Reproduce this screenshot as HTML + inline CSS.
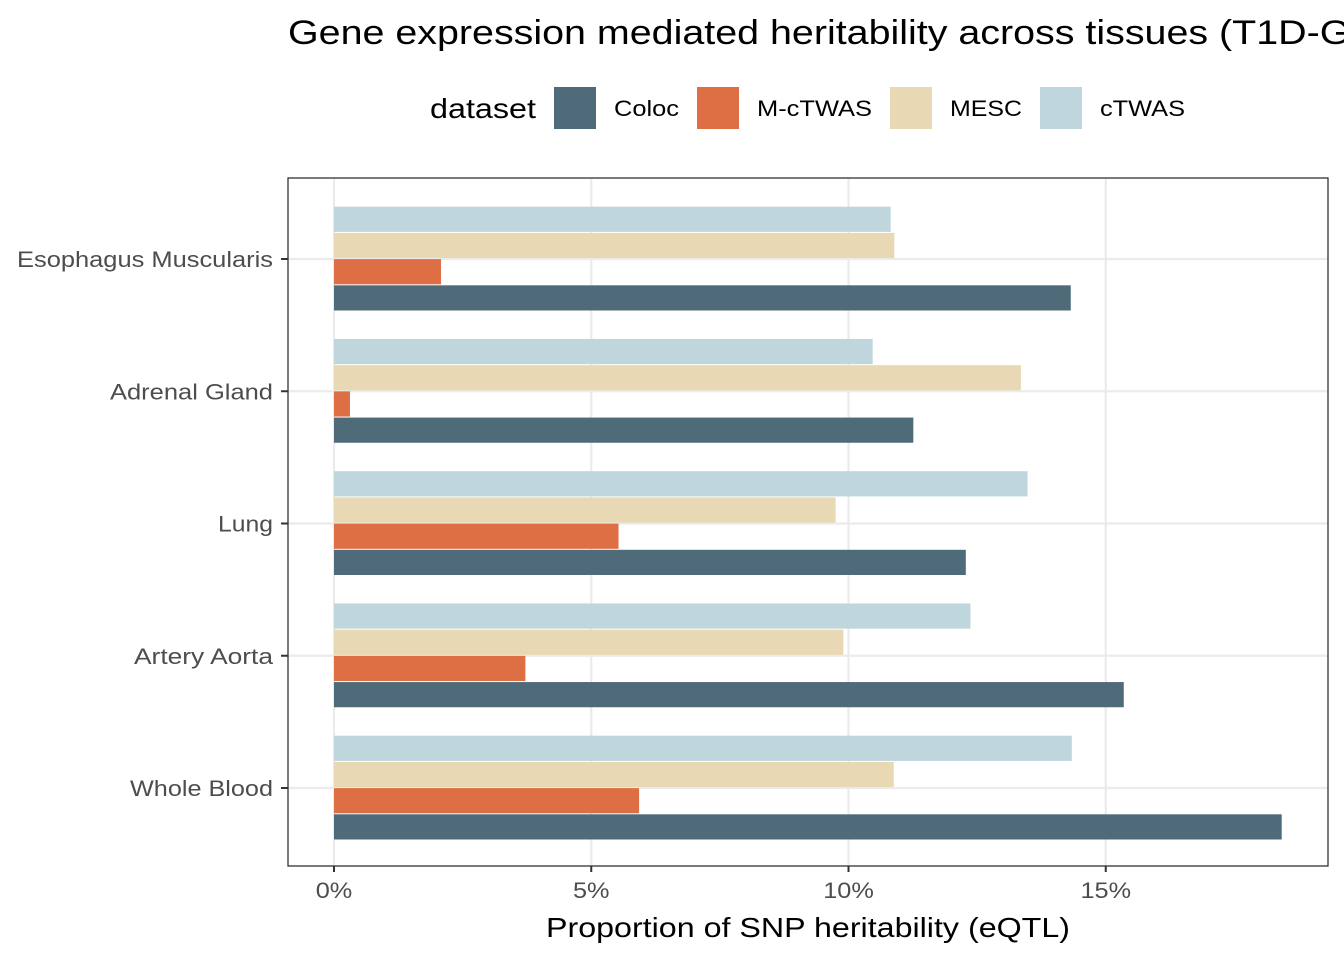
<!DOCTYPE html>
<html><head><meta charset="utf-8"><style>
html,body{margin:0;padding:0;width:1344px;height:960px;overflow:hidden;background:#fff;font-family:"Liberation Sans",sans-serif;}
</style></head><body>
<svg id="chart" width="1344" height="960" xmlns="http://www.w3.org/2000/svg" font-family="Liberation Sans, sans-serif">
<text x="288" y="44" font-size="34" fill="#000" textLength="1104" lengthAdjust="spacingAndGlyphs">Gene expression mediated heritability across tissues (T1D-GC)</text>
<g id="legend">
<text x="430" y="118" font-size="28" fill="#000" textLength="106" lengthAdjust="spacingAndGlyphs">dataset</text>
</g>
<rect x="288" y="178" width="1040" height="688" fill="#fff"/>
<g id="grid"></g>
<g id="bars"></g>
<rect x="288" y="178" width="1040" height="688" fill="none" stroke="#333" stroke-width="1.3"/>
<g id="axes"></g>
<text x="546" y="937" font-size="28" fill="#000" textLength="524" lengthAdjust="spacingAndGlyphs">Proportion of SNP heritability (eQTL)</text>
</svg>
<script>
const categories = ["Esophagus Muscularis","Adrenal Gland","Lung","Artery Aorta","Whole Blood"];
const seriesNames = ["Coloc","M-cTWAS","MESC","cTWAS"];
const coloc = [14.32,11.26,12.28,15.35,18.42];
const mctwas = [2.08,0.31,5.53,3.72,5.93];
const mesc = [10.89,13.35,9.75,9.90,10.88];
const ctwas = [10.82,10.47,13.48,12.37,14.34];
const xTicks = [0,5,10,15];
const xTickLabels = ["0%","5%","10%","15%"];

const colors = ["#4f6b7a","#de6e43","#e8d9b4","#bfd6dd"];
const catWidths = [256,163,55,139,143];
const legWidths = [65,115,72,85];
const NS="http://www.w3.org/2000/svg";
const xs = v => 334 + v*51.45;
const ys = i => 259 + i*132.25;
function mk(tag, attrs, parent){const e=document.createElementNS(NS,tag);for(const k in attrs)e.setAttribute(k,attrs[k]);parent.appendChild(e);return e;}
const grid=document.getElementById('grid'), bars=document.getElementById('bars'), axes=document.getElementById('axes'), legend=document.getElementById('legend');
xTicks.forEach((t,i)=>{
  const l=mk('line',{x1:xs(t),x2:xs(t),y1:178,y2:866,stroke:'#ebebeb','stroke-width':2.2},grid);
  
  
  const tk=mk('line',{x1:xs(t),x2:xs(t),y1:866,y2:872,stroke:'#333','stroke-width':2},axes);
  
  
  const tx=mk('text',{x:0,y:0,'font-size':22,'text-anchor':'middle',fill:'#4d4d4d',transform:'translate('+xs(t)+',898) scale(1.15,1)'},axes);
  tx.textContent=xTickLabels[i];
  
  
});
const series=[coloc,mctwas,mesc,ctwas];
categories.forEach((c,i)=>{
  const y=ys(i);
  const g=mk('line',{x1:288,x2:1328,y1:y,y2:y,stroke:'#ebebeb','stroke-width':2.2},grid);
  
  
  const tk=mk('line',{x1:281,x2:288,y1:y,y2:y,stroke:'#333','stroke-width':2},axes);
  
  
  const tx=mk('text',{x:273-catWidths[i],y:y+8,'font-size':22,fill:'#4d4d4d',textLength:catWidths[i],lengthAdjust:'spacingAndGlyphs'},axes);
  tx.textContent=c;
  
  
  series.forEach((s,k)=>{
    const top=y+52-(k+1)*26.2;
    const r=mk('rect',{x:xs(0),y:top+0.5,width:xs(s[i])-xs(0),height:25.2,fill:colors[k]},bars);
    
    
  });
});
const lx=[554,697,890,1040];
seriesNames.forEach((n,k)=>{
  const r=mk('rect',{x:lx[k],y:87,width:42,height:42,fill:colors[k]},legend);
  
  
  const t=mk('text',{x:lx[k]+60,y:116,'font-size':22,fill:'#000',textLength:legWidths[k],lengthAdjust:'spacingAndGlyphs'},legend);
  t.textContent=n;
  
  
});
</script>
</body></html>
